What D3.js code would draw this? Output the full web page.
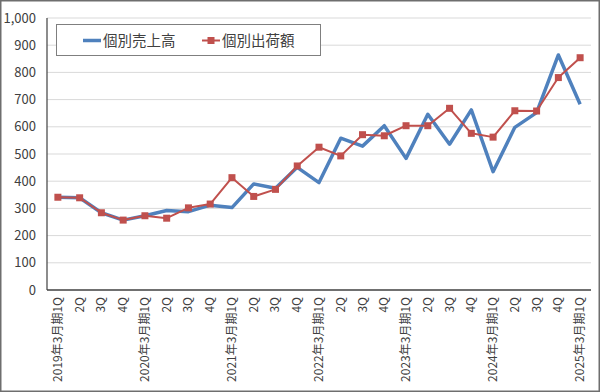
<!DOCTYPE html>
<html>
<head>
<meta charset="utf-8">
<script src="https://cdn.jsdelivr.net/npm/d3@7"></script>
<style>
  body { margin: 0; background: #fff; }
  svg text { font-family: "Noto Sans CJK JP", "Noto Sans", sans-serif; }
</style>
</head>
<body>
<svg id="chart"></svg>
<script>
const width = 600, height = 392;
const margin = { top: 18, right: 9, bottom: 102, left: 47 };

// Quarter labels
const categories = [
  "2019年3月期1Q", "2Q", "3Q", "4Q",
  "2020年3月期1Q", "2Q", "3Q", "4Q",
  "2021年3月期1Q", "2Q", "3Q", "4Q",
  "2022年3月期1Q", "2Q", "3Q", "4Q",
  "2023年3月期1Q", "2Q", "3Q", "4Q",
  "2024年3月期1Q", "2Q", "3Q", "4Q",
  "2025年3月期1Q"
];
// 個別売上高
const salesValues = [341, 339, 284, 257, 273, 292, 288, 312, 303, 390, 374, 451, 395,
  558, 529, 604, 484, 646, 536, 662, 435, 598, 652, 864, 683];
// 個別出荷額
const shipValues = [341, 339, 284, 257, 273, 264, 302, 316, 413, 344, 370, 456, 525,
  493, 571, 567, 604, 604, 668, 576, 562, 659, 658, 781, 854];
const yTicks = [0, 100, 200, 300, 400, 500, 600, 700, 800, 900, 1000];

const series = [
  { name: "個別売上高", values: salesValues, color: "#4f81bd", width: 3.5, marker: false },
  { name: "個別出荷額", values: shipValues, color: "#c0504d", width: 2, marker: true }
];

const svg = d3.select("#chart")
  .attr("width", width)
  .attr("height", height);

// outer frame
svg.append("rect")
  .attr("x", 0.75).attr("y", 0.75)
  .attr("width", width - 1.5).attr("height", height - 1.5)
  .attr("fill", "#fff")
  .attr("stroke", "#6e6e6e")
  .attr("stroke-width", 1.5);

const plotW = width - margin.left - margin.right;
const plotH = height - margin.top - margin.bottom;

const x = d3.scaleBand().domain(d3.range(categories.length)).range([0, plotW]);
const y = d3.scaleLinear().domain([0, 1000]).range([plotH, 0]);

const g = svg.append("g").attr("transform", `translate(${margin.left},${margin.top})`);

// gridlines
g.append("g")
  .selectAll("line")
  .data(yTicks.filter(d => d > 0))
  .join("line")
  .attr("x1", 0).attr("x2", plotW)
  .attr("y1", d => y(d)).attr("y2", d => y(d))
  .attr("stroke", "#d9d9d9")
  .attr("stroke-width", 1);

// y axis labels
g.append("g")
  .selectAll("text")
  .data(yTicks)
  .join("text")
  .attr("x", -11)
  .attr("y", d => y(d))
  .attr("dy", "0.35em")
  .attr("text-anchor", "end")
  .attr("font-size", 13)
  .attr("fill", "#404040")
  .text(d => d3.format(",")(d));

// x axis labels (rotated)
g.append("g")
  .selectAll("text")
  .data(categories)
  .join("text")
  .attr("transform", (d, i) => `translate(${x(i) + x.bandwidth() / 2 + 4},${plotH + 7}) rotate(-90)`)
  .attr("text-anchor", "end")
  .attr("font-size", 12)
  .attr("fill", "#404040")
  .text(d => d);

// axis lines
g.append("line")
  .attr("x1", 0).attr("x2", 0)
  .attr("y1", 0).attr("y2", plotH)
  .attr("stroke", "#404040").attr("stroke-width", 1.2);
g.append("line")
  .attr("x1", 0).attr("x2", plotW)
  .attr("y1", plotH).attr("y2", plotH)
  .attr("stroke", "#404040").attr("stroke-width", 1.5);

const line = d3.line()
  .x((d, i) => x(i) + x.bandwidth() / 2)
  .y(d => y(d));

series.forEach(s => {
  g.append("path")
    .datum(s.values)
    .attr("fill", "none")
    .attr("stroke", s.color)
    .attr("stroke-width", s.width)
    .attr("stroke-linejoin", "round")
    .attr("d", line);
  if (s.marker) {
    g.append("g")
      .selectAll("rect")
      .data(s.values)
      .join("rect")
      .attr("x", (d, i) => x(i) + x.bandwidth() / 2 - 3.5)
      .attr("y", d => y(d) - 3.5)
      .attr("width", 7).attr("height", 7)
      .attr("fill", s.color);
  }
});

// legend
const legend = svg.append("g");
legend.append("rect")
  .attr("x", 56.5).attr("y", 24.5)
  .attr("width", 264).attr("height", 31)
  .attr("fill", "#fff")
  .attr("stroke", "#7f7f7f")
  .attr("stroke-width", 1);

const legendItems = [
  { s: series[0], x0: 83 },
  { s: series[1], x0: 202 }
];
legendItems.forEach(({ s, x0 }) => {
  legend.append("line")
    .attr("x1", x0).attr("x2", x0 + 18)
    .attr("y1", 40.5).attr("y2", 40.5)
    .attr("stroke", s.color)
    .attr("stroke-width", s.width);
  if (s.marker) {
    legend.append("rect")
      .attr("x", x0 + 9 - 3.5).attr("y", 40.5 - 3.5)
      .attr("width", 7).attr("height", 7)
      .attr("fill", s.color);
  }
  legend.append("text")
    .attr("x", x0 + 20)
    .attr("y", 40.5)
    .attr("dy", "0.35em")
    .attr("font-size", 14.5)
    .attr("fill", "#404040")
    .text(s.name);
});
</script>
</body>
</html>
